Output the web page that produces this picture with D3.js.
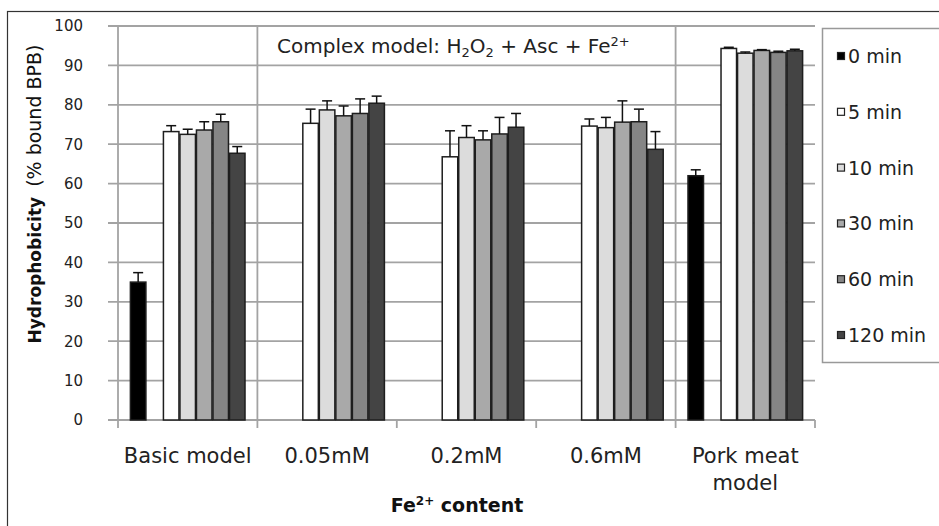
<!DOCTYPE html>
<html>
<head>
<meta charset="utf-8">
<script src="https://cdn.jsdelivr.net/npm/d3@7"></script>
<style>
  html, body { margin: 0; padding: 0; background: #fff; }
  svg { display: block; font-family: "DejaVu Sans", sans-serif; }
</style>
</head>
<body>
<svg id="svg" width="939" height="526"></svg>
<script>
// categories along x
const categories = ["Basic model", "0.05mM", "0.2mM", "0.6mM", "Pork meat model"];
const seriesNames = ["0 min", "5 min", "10 min", "30 min", "60 min", "120 min"];

// hydrophobicity values (% bound BPB), one array per time point
const min0   = [35.0, null, null, null, 62.0];
const min5   = [73.2, 75.3, 66.8, 74.6, 94.3];
const min10  = [72.5, 78.7, 71.7, 74.2, 93.1];
const min30  = [73.6, 77.2, 71.1, 75.6, 93.8];
const min60  = [75.7, 77.8, 72.6, 75.7, 93.3];
const min120 = [67.7, 80.4, 74.3, 68.7, 93.7];

// error bar sizes (upper)
const err0   = [2.4, null, null, null, 1.5];
const err5   = [1.5, 3.6, 6.6, 1.8, 0.3];
const err10  = [1.3, 2.3, 3.0, 2.6, 0.3];
const err30  = [2.1, 2.5, 2.3, 5.4, 0.2];
const err60  = [1.9, 3.7, 4.2, 3.2, 0.3];
const err120 = [1.7, 1.8, 3.5, 4.5, 0.4];

const yTicks = [0, 10, 20, 30, 40, 50, 60, 70, 80, 90, 100];

const seriesVals = [min0, min5, min10, min30, min60, min120];
const seriesErr = [err0, err5, err10, err30, err60, err120];
const fills = ["#000000", "#ffffff", "#dcdcdc", "#a9a9a9", "#858585", "#444444"];
// slot order inside a category (an empty slot sits after 0 min, as in the original)
const slots = ["0 min", "_", "5 min", "10 min", "30 min", "60 min", "120 min"];

const svg = d3.select("#svg");
const W = 939, H = 526;

// outer frame (only left/top visible)
svg.append("rect").attr("x", 7.5).attr("y", 11.5).attr("width", W).attr("height", H)
  .attr("fill", "#fff").attr("stroke", "#333").attr("stroke-width", 1.2);

const plot = { left: 118, right: 815, top: 26, bottom: 420 };

const x0 = d3.scaleBand().domain(categories).range([plot.left, plot.right]).padding(0);
const x1 = d3.scaleBand().domain(slots).range([0, x0.bandwidth()]).paddingInner(0).paddingOuter(0.72);
const y = d3.scaleLinear().domain([0, 100]).range([plot.bottom, plot.top]);

const grid = "#a3a3a3";

// horizontal gridlines (extend left as tick marks)
svg.append("g").selectAll("line").data(yTicks).join("line")
  .attr("x1", plot.left - 10).attr("x2", plot.right)
  .attr("y1", d => y(d)).attr("y2", d => y(d))
  .attr("stroke", grid).attr("stroke-width", 1.8);

// vertical separators: y axis and the complex model box
[plot.left, x0("0.05mM"), x0("Pork meat model")].forEach(xv => {
  svg.append("line").attr("x1", xv).attr("x2", xv)
    .attr("y1", plot.top).attr("y2", plot.bottom)
    .attr("stroke", grid).attr("stroke-width", 1.8);
});

// x axis with ticks at category boundaries
const xAxis = svg.append("g");
xAxis.append("line").attr("x1", plot.left).attr("x2", plot.right)
  .attr("y1", plot.bottom).attr("y2", plot.bottom)
  .attr("stroke", grid).attr("stroke-width", 1.8);
categories.concat(["_end"]).forEach((c, i) => {
  const xv = i < categories.length ? x0(c) : plot.right;
  xAxis.append("line").attr("x1", xv).attr("x2", xv)
    .attr("y1", plot.bottom).attr("y2", plot.bottom + 8)
    .attr("stroke", grid).attr("stroke-width", 1.8);
});

// y tick labels
const yAxis = svg.append("g").attr("transform", `translate(${plot.left - 10},0)`)
  .call(d3.axisLeft(y).tickValues(yTicks).tickSize(0).tickPadding(25));
yAxis.select(".domain").remove();
yAxis.selectAll("text").attr("font-size", 15).attr("fill", "#222")
  .attr("font-family", "DejaVu Sans, sans-serif");

// bars
const barG = svg.append("g");
seriesNames.forEach((s, si) => {
  categories.forEach((c, ci) => {
    const v = seriesVals[si][ci];
    if (v == null) return;
    const bx = x0(c) + x1(s);
    const bw = x1.bandwidth();
    barG.append("rect")
      .attr("x", bx + 0.5).attr("y", y(v))
      .attr("width", bw - 1).attr("height", y(0) - y(v))
      .attr("fill", fills[si])
      .attr("stroke", "#1e1e1e").attr("stroke-width", 1.5);
    const e = seriesErr[si][ci];
    const cx = bx + bw / 2;
    barG.append("line").attr("x1", cx).attr("x2", cx)
      .attr("y1", y(v)).attr("y2", y(v + e))
      .attr("stroke", "#111").attr("stroke-width", 1.5);
    barG.append("line").attr("x1", cx - 5).attr("x2", cx + 5)
      .attr("y1", y(v + e)).attr("y2", y(v + e))
      .attr("stroke", "#111").attr("stroke-width", 1.5);
  });
});

// category labels
categories.forEach(c => {
  const cx = x0(c) + x0.bandwidth() / 2;
  const t = svg.append("text").attr("x", cx).attr("y", 463)
    .attr("text-anchor", "middle").attr("font-size", 21).attr("fill", "#222");
  if (c === "Pork meat model") {
    t.append("tspan").attr("x", cx).text("Pork meat");
    t.append("tspan").attr("x", cx).attr("dy", 27).text("model");
  } else {
    t.text(c);
  }
});

// complex model label
const cl = svg.append("text").attr("x", 277).attr("y", 53)
  .attr("font-size", 20).attr("fill", "#222");
cl.append("tspan").text("Complex model: H");
cl.append("tspan").attr("font-size", 13).attr("dy", 4).text("2");
cl.append("tspan").attr("dy", -4).text("O");
cl.append("tspan").attr("font-size", 13).attr("dy", 4).text("2");
cl.append("tspan").attr("dy", -4).text(" + Asc + Fe");
cl.append("tspan").attr("font-size", 13).attr("dy", -7).text("2+");

// axis titles
const yt = svg.append("text")
  .attr("transform", `translate(41,194) rotate(-90)`)
  .attr("text-anchor", "middle").attr("fill", "#111");
yt.append("tspan").attr("font-weight", "bold").attr("font-size", 17).text("Hydrophobicity");
yt.append("tspan").attr("font-size", 19).attr("dx", 10).text("(% bound BPB)");

const xt = svg.append("text").attr("x", 457).attr("y", 512)
  .attr("text-anchor", "middle").attr("font-weight", "bold").attr("font-size", 19).attr("fill", "#111");
xt.append("tspan").text("Fe");
xt.append("tspan").attr("font-size", 12).attr("dy", -7).text("2+");
xt.append("tspan").attr("dy", 7).text(" content");

// legend
const lg = svg.append("g");
lg.append("rect").attr("x", 822.5).attr("y", 28.5).attr("width", 140).attr("height", 334)
  .attr("fill", "#fff").attr("stroke", "#999").attr("stroke-width", 1.5);
seriesNames.forEach((s, i) => {
  const by = 63 + i * 55.8;
  lg.append("rect").attr("x", 837.5).attr("y", by - 10.5).attr("width", 7).attr("height", 7)
    .attr("fill", fills[i]).attr("stroke", "#222").attr("stroke-width", 1.2);
  lg.append("text").attr("x", 848).attr("y", by)
    .attr("font-size", 19).attr("fill", "#222").text(s);
});
</script>
</body>
</html>
